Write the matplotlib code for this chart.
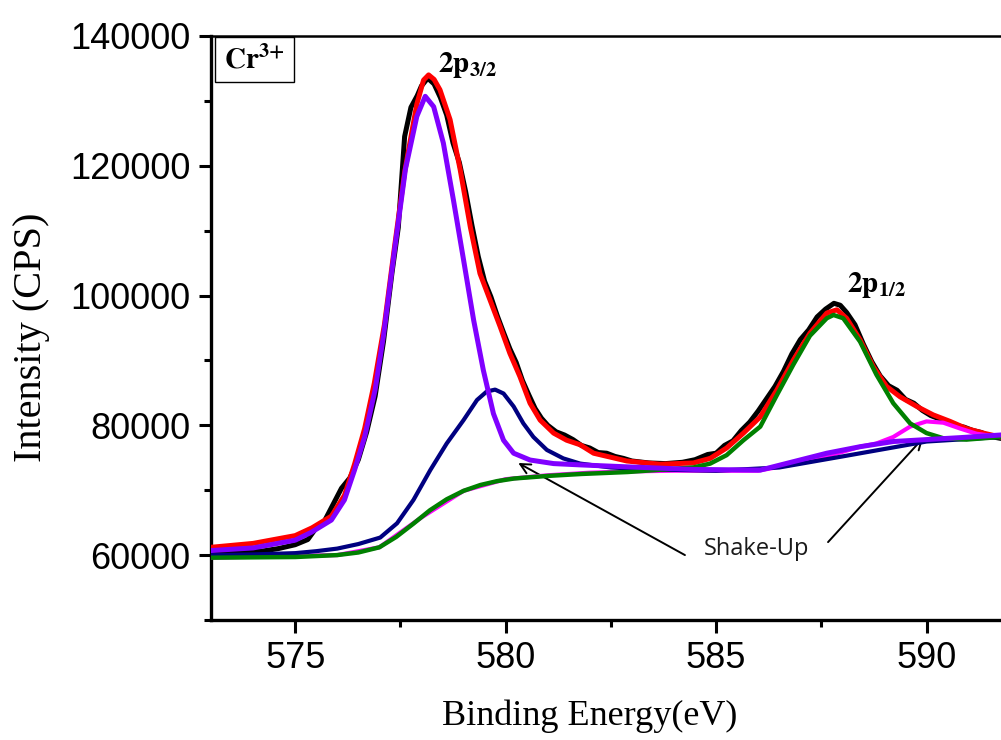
import matplotlib
matplotlib.use("Agg")
import matplotlib.pyplot as plt
from matplotlib.patches import Rectangle
from matplotlib.ticker import MultipleLocator

# measured spectrum (black)
raw_be = [573.0, 573.4, 573.8, 574.2, 574.6, 575.0, 575.3, 575.5, 575.7, 575.9,
          576.1, 576.3, 576.5, 576.7, 576.9, 577.1, 577.3, 577.45, 577.6, 577.75,
          577.9, 578.0, 578.15, 578.3, 578.45, 578.6, 578.75, 578.9, 579.05, 579.2,
          579.35, 579.5, 579.65, 579.8, 579.95, 580.1, 580.25, 580.4, 580.55, 580.7,
          580.85, 581.0, 581.2, 581.4, 581.6, 581.8, 582.0, 582.2, 582.4, 582.6,
          582.8, 583.0, 583.4, 583.8, 584.2, 584.5, 584.8, 585.0, 585.2, 585.4,
          585.6, 585.8, 586.0, 586.2, 586.4, 586.6, 586.8, 587.0, 587.2, 587.4,
          587.6, 587.8, 587.95, 588.1, 588.3, 588.5, 588.7, 588.9, 589.1, 589.3,
          589.5, 589.7, 589.9, 590.1, 590.3, 590.5, 590.7, 590.9, 591.1, 591.3,
          591.5, 591.75, 592.0]
raw_cps = [60300, 60200, 60500, 60600, 61000, 61600, 62400, 64200, 65300, 67800,
           70300, 71900, 74700, 79000, 84500, 93000, 103500, 110500, 124500, 129000,
           130800, 132300, 133500, 132600, 130500, 127800, 123500, 120500, 116000, 110800,
           106000, 102200, 99800, 96900, 94300, 91800, 89700, 86900, 84700, 82600,
           81100, 80000, 79000, 78500, 77800, 76900, 76500, 75800, 75700, 75200,
           74900, 74500, 74200, 74100, 74300, 74700, 75500, 75700, 76900, 77600,
           79200, 80500, 82200, 84100, 86000, 88300, 91000, 93200, 94700, 96700,
           97900, 98800, 98500, 97400, 95500, 92500, 89800, 87600, 86100, 85400,
           84000, 83400, 82300, 81500, 81000, 80500, 80000, 79700, 79200, 78900,
           78300, 78000, 77800]

# envelope (red)
env_be = [573.0, 574.0, 575.0, 575.4, 575.86, 576.17, 576.41, 576.65, 576.88, 577.12,
          577.36, 577.6, 577.89, 578.05, 578.17, 578.3, 578.44, 578.68, 578.92, 579.16,
          579.39, 579.63, 579.87, 580.1, 580.34, 580.58, 580.82, 581.14, 581.45, 581.77,
          582.09, 582.88, 583.67, 584.46, 584.86, 585.25, 585.65, 586.05, 586.44, 586.84,
          587.23, 587.63, 587.87, 588.1, 588.42, 588.74, 589.05, 589.37, 589.77, 590.16,
          590.56, 590.95, 591.35, 591.75, 592.0]
env_cps = [61200, 61800, 63000, 64200, 66000, 69200, 74000, 79500, 86500, 95500,
           107500, 119000, 129500, 133200, 134000, 133300, 131700, 127100, 119400, 110600,
           103400, 99300, 95200, 91100, 87500, 83400, 80800, 78800, 77700, 77000,
           75700, 74500, 74000, 74200, 74900, 76500, 78800, 81300, 85400, 90100,
           94200, 97300, 97800, 96500, 93200, 89000, 86000, 84400, 82900, 81600,
           80600, 79500, 78800, 78200, 78000]

# Cr 2p3/2 main component (violet)
p32_be = [573.0, 574.0, 575.0, 575.38, 575.86, 576.17, 576.41, 576.65, 576.9, 577.1,
          577.35, 577.62, 577.89, 578.09, 578.29, 578.52, 578.76, 579.0, 579.24, 579.47,
          579.71, 579.95, 580.19, 580.58, 581.14, 581.77, 582.88, 584.46, 586.05, 586.84,
          587.63, 588.42, 589.21, 590.0, 590.8, 591.75, 592.0]
p32_cps = [60700, 61100, 62300, 63500, 65400, 68500, 73100, 78200, 85500, 93900,
           106500, 119500, 127600, 130700, 129100, 123500, 114700, 105500, 96200, 88500,
           81800, 77700, 75700, 74650, 74100, 73900, 73600, 73200, 73100, 74400,
           75700, 76700, 77500, 77800, 78100, 78500, 78600]

# shake-up satellite of 2p3/2 (navy)
sat1_be = [573.0, 574.0, 575.0, 575.5, 576.0, 576.5, 577.02, 577.42, 577.81, 578.21,
           578.6, 579.0, 579.32, 579.55, 579.75, 579.95, 580.19, 580.42, 580.66, 580.98,
           581.37, 581.77, 582.5, 583.5, 585.0, 586.5, 588.0, 590.0, 592.0]
sat1_cps = [60000, 60100, 60300, 60600, 61000, 61700, 62700, 64900, 68500, 73100,
            77200, 80800, 83900, 85200, 85500, 84900, 82900, 80300, 78200, 76200,
            74900, 74100, 73500, 73200, 73000, 73500, 75200, 77500, 78300]

# Cr 2p1/2 main component (green)
p12_be = [573.0, 575.0, 576.0, 576.5, 577.0, 577.4, 577.8, 578.2, 578.6, 579.0,
          579.4, 579.8, 580.2, 581.0, 581.8, 582.9, 584.0, 584.46, 584.86, 585.25,
          585.65, 586.05, 586.44, 586.84, 587.23, 587.63, 587.79, 588.02, 588.42, 588.81,
          589.21, 589.61, 590.0, 590.4, 590.95, 591.75, 592.0]
p12_cps = [59600, 59700, 60000, 60400, 61200, 62800, 64800, 66900, 68600, 69900,
           70800, 71400, 71800, 72200, 72500, 72800, 73300, 73500, 74100, 75400,
           77700, 79800, 84600, 89400, 93800, 96500, 97000, 96500, 92900, 87800,
           83400, 80300, 78800, 78000, 77800, 78200, 78300]

# shake-up satellite of 2p1/2 (magenta)
sat2_be = [573.0, 576.0, 577.0, 578.0, 579.0, 580.0, 581.0, 582.0, 583.0, 584.0,
           585.0, 586.0, 587.0, 588.0, 588.42, 588.81, 589.21, 589.61, 590.0, 590.4,
           590.8, 591.19, 591.75, 592.0]
sat2_cps = [59600, 60000, 61200, 65800, 69900, 71700, 72300, 72700, 72900, 73000,
            73000, 73000, 74200, 75900, 76700, 77200, 78200, 79800, 80600, 80400,
            79500, 78700, 78200, 78100]

x_ticks = [575, 580, 585, 590]
y_ticks = [60000, 80000, 100000, 120000, 140000]

plt.rcParams["font.family"] = ["Liberation Sans", "DejaVu Sans"]
plt.rcParams["mathtext.fontset"] = "stix"

fig = plt.figure(figsize=(10.01, 7.40), dpi=100)
ax = fig.add_axes([0.2108, 0.1622, 0.7989, 0.7892])

line_kw = dict(solid_joinstyle="round", solid_capstyle="round")
ax.plot(raw_be, raw_cps, color="black", lw=3.6, zorder=2, **line_kw)
ax.plot(env_be, env_cps, color="#ff0000", lw=3.6, zorder=3, **line_kw)
ax.plot(sat2_be, sat2_cps, color="#ff00ff", lw=3.0, zorder=4, **line_kw)
ax.plot(sat1_be, sat1_cps, color="#000080", lw=3.0, zorder=5, **line_kw)
ax.plot(p12_be, p12_cps, color="#008000", lw=3.2, zorder=6, **line_kw)
ax.plot(p32_be, p32_cps, color="#8000ff", lw=3.6, zorder=7, **line_kw)

ax.set_xlim(573, 592)
ax.set_ylim(50000, 140000)
ax.set_xticks(x_ticks)
ax.set_yticks(y_ticks)
ax.xaxis.set_minor_locator(MultipleLocator(2.5))
ax.yaxis.set_minor_locator(MultipleLocator(10000))
ax.tick_params(which="major", direction="out", length=9, width=2.2,
               labelsize=26, pad=6)
ax.tick_params(which="minor", direction="out", length=5, width=2.2)
for side in ["left", "bottom"]:
    ax.spines[side].set_linewidth(2.4)
ax.spines["top"].set_linewidth(1.8)
ax.spines["right"].set_visible(False)

fig.text(590 / 1001, 0.02, "Binding Energy(eV)", ha="center", va="baseline",
         fontsize=26, family="Liberation Serif")
fig.text(0.031, 0.544, "Intensity (CPS)", rotation=90, ha="center", va="center",
         fontsize=29, family="Liberation Serif")

# Cr3+ box
ax.add_patch(Rectangle((0.005, 0.921), 0.0988, 0.077, transform=ax.transAxes,
                       fill=False, edgecolor="black", lw=1.0, zorder=10))
ax.text(0.054, 0.959, r"$\mathbf{Cr^{3{+}}}$", transform=ax.transAxes,
        ha="center", va="center", fontsize=21, zorder=11)

ax.text(578.4, 134500, r"$\mathbf{2p_{3/2}}$", ha="left", va="baseline", fontsize=21)
ax.text(588.1, 100600, r"$\mathbf{2p_{1/2}}$", ha="left", va="baseline", fontsize=21)

ax.text(584.7, 60000, "Shake-Up", ha="left", va="baseline", fontsize=17,
        family="Open Sans", color="#1a1a1a")
arrow = dict(arrowstyle="->", lw=1.4, color="black", mutation_scale=18,
             shrinkA=0, shrinkB=0)
ax.annotate("", xy=(580.30, 74190), xytext=(584.26, 60000), arrowprops=arrow)
ax.annotate("", xy=(589.92, 78040), xytext=(587.66, 62000), arrowprops=arrow)

fig.savefig("out.png", dpi=100)
